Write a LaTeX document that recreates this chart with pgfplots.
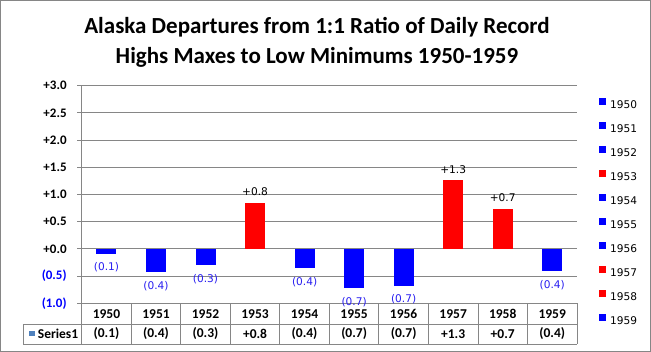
\documentclass[border=0pt]{standalone}
\usepackage{pgfplots}
\pgfplotsset{compat=1.18}
\usepackage{fontspec}
\setmainfont{Carlito}
\newfontfamily\tahomalike{DejaVu Sans}
\definecolor{gridgray}{RGB}{134,134,134}
\definecolor{barblue}{RGB}{0,0,255}
\definecolor{barred}{RGB}{255,0,0}
\definecolor{labblue}{RGB}{40,30,240}
\definecolor{keyblue}{RGB}{79,129,189}
\begin{document}
\begin{tikzpicture}[x=1pt,y=1pt]
\useasboundingbox (-81.7,-48.7) rectangle (569.3,303.3);
\draw[gridgray, line width=0.8pt] (-81.2,-48.2) rectangle (568.8,302.8);
\node[font=\fontsize{23}{27}\selectfont\bfseries, anchor=base] at (235.3,270) {Alaska Departures from 1:1 Ratio of Daily Record};
\node[font=\fontsize{23}{27}\selectfont\bfseries, anchor=base] at (235.3,240) {Highs Maxes to Low Minimums 1950-1959};
\begin{axis}[
  at={(0,0)}, anchor=south west,
  scale only axis, width=495.3pt, height=217.6pt,
  xmin=-0.5, xmax=9.5, ymin=-1, ymax=3,
  ybar, bar width=20pt, bar shift=0pt,
  axis x line=none, axis y line*=left,
  axis line style={gridgray, line width=0.8pt, -},
  ytick={-1,-0.5,0,0.5,1,1.5,2,2.5,3},
  yticklabels={\textcolor{barblue}{(1.0)},\textcolor{barblue}{(0.5)},+0.0,+0.5,+1.0,+1.5,+2.0,+2.5,+3.0},
  yticklabel style={font=\fontsize{13}{15}\selectfont\bfseries, anchor=east, inner sep=0pt, xshift=-10.5pt},
  ymajorgrids, grid style={gridgray, line width=0.8pt},
  tick align=outside, major tick length=4.4pt, tick style={gridgray, line width=0.8pt},
  xtick=\empty,
  clip=false,
  point meta=explicit symbolic,
  nodes near coords,
  every node near coord/.append style={font=\tahomalike\fontsize{10.6}{12}\selectfont},
  neg/.style={fill=barblue, draw=none, every node near coord/.append style={anchor=north, text=labblue, yshift=-5.5pt}},
  pos/.style={fill=barred, draw=none, every node near coord/.append style={anchor=south, text=black, yshift=3pt}},
  every axis plot post/.append style={legend image code/.code={\fill[##1, draw=none] (0pt,0pt) rectangle (6.8pt,6.8pt);}},
  legend style={draw=none, fill=none, inner sep=0pt, anchor=north west, at={(1.0445,0.945)},
    font=\tahomalike\fontsize{10.6}{12}\selectfont, row sep=13.5pt, column sep=4pt,
    nodes={inner sep=0pt, text height=7.5pt, text depth=0pt}},
  legend cell align=left,
]
\addplot[neg] coordinates {(0,-0.09) [(0.1)]};
\addplot[neg] coordinates {(1,-0.43) [(0.4)]};
\addplot[neg] coordinates {(2,-0.30) [(0.3)]};
\addplot[pos] coordinates {(3,0.85) [+0.8]};
\addplot[neg] coordinates {(4,-0.36) [(0.4)]};
\addplot[neg] coordinates {(5,-0.72) [(0.7)]};
\addplot[neg] coordinates {(6,-0.68) [(0.7)]};
\addplot[pos] coordinates {(7,1.27) [+1.3]};
\addplot[pos] coordinates {(8,0.74) [+0.7]};
\addplot[neg] coordinates {(9,-0.41) [(0.4)]};
\legend{1950,1951,1952,1953,1954,1955,1956,1957,1958,1959}
\end{axis}
% data table below the axis
\draw[gridgray, line width=0.8pt] (0,-40.7) -- (495.3,-40.7);
\draw[gridgray, line width=0.8pt] (-58.7,-21) -- (495.3,-21);
\draw[gridgray, line width=0.8pt] (-58.7,-21) -- (-58.7,-40.7) -- (0,-40.7);
\draw[gridgray, line width=0.8pt] (0,0) -- (0,-40.7);
\foreach \i in {1,...,10} {
  \draw[gridgray, line width=0.8pt] ({49.53*\i},0) -- ({49.53*\i},-40.7);
}
\foreach \yr/\v [count=\i from 0] in {1950/{(0.1)},1951/{(0.4)},1952/{(0.3)},1953/{+0.8},1954/{(0.4)},1955/{(0.7)},1956/{(0.7)},1957/{+1.3},1958/{+0.7},1959/{(0.4)}} {
  \node[font=\fontsize{13.5}{15}\selectfont\bfseries, inner sep=0pt] at ({49.53*(\i+0.5)},-10.4) {\yr};
  \node[font=\fontsize{13.5}{15}\selectfont\bfseries, inner sep=0pt] at ({49.53*(\i+0.5)},-30.7) {\v};
}
\fill[keyblue] (-52.4,-33.2) rectangle (-47,-27.8);
\node[font=\fontsize{13.5}{15}\selectfont\bfseries, inner sep=0pt, anchor=west] at (-44,-30.7) {Series1};
\end{tikzpicture}
\end{document}
